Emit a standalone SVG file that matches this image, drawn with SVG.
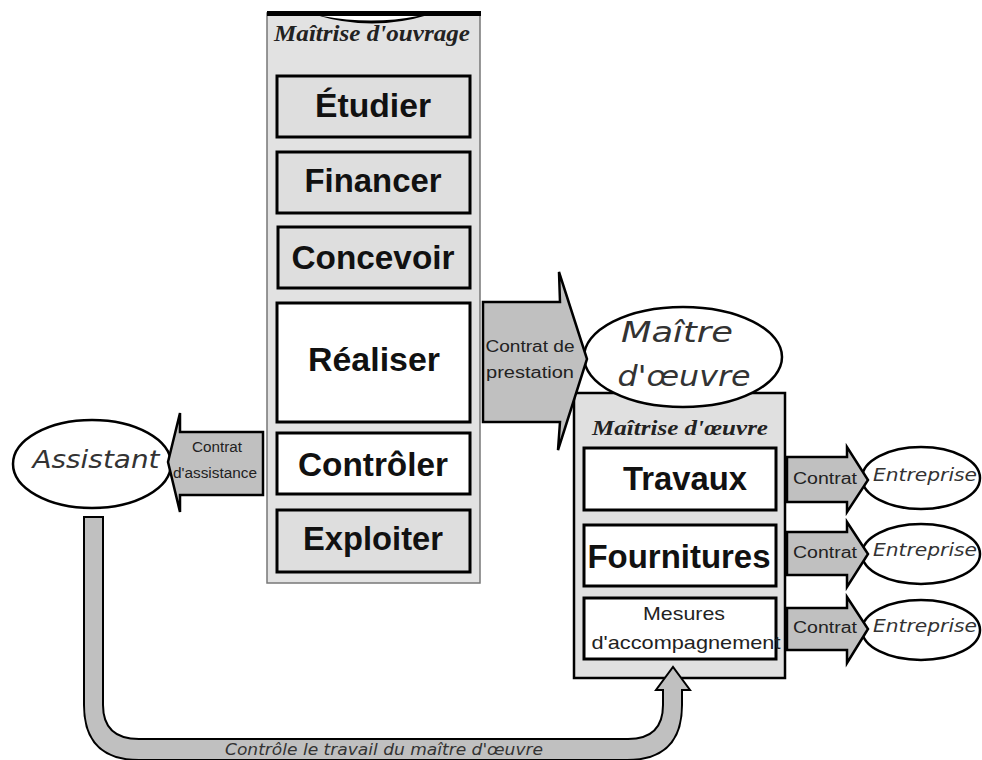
<svg xmlns="http://www.w3.org/2000/svg" width="982" height="760" viewBox="0 0 982 760">
<style>
.col{fill:#e2e2e2;stroke:#777;stroke-width:1.5}
.box{stroke:#000;stroke-width:3}
.g{fill:#dedede}
.w{fill:#fff}
.lbl{font-family:"Liberation Sans",Arial,sans-serif;font-weight:bold;fill:#111;text-anchor:middle}
.ser{font-family:"Liberation Serif","Times New Roman",serif;font-weight:bold;font-style:italic;fill:#222;text-anchor:middle}
.it{font-family:"DejaVu Sans","Liberation Sans",sans-serif;font-style:italic;fill:#333;text-anchor:middle}
.sm{font-family:"Liberation Sans",Arial,sans-serif;fill:#222;text-anchor:middle}
.arr{fill:#c0c0c0;stroke:#000;stroke-width:2.5;stroke-linejoin:miter}
.ell{fill:#fff;stroke:#000;stroke-width:2.5}
</style>

<g id="maitrise-ouvrage">
<rect class="col" x="267" y="13" width="213" height="570"/>
<rect x="267" y="11" width="214" height="5" fill="#000"/>
<path d="M316,15 Q372,32 428,15 Z" fill="#000"/>
<path d="M322,16 Q372,25 418,16 Z" fill="#fff"/>
<text class="ser" x="372" y="41" font-size="24" textLength="196" lengthAdjust="spacingAndGlyphs">Maîtrise d'ouvrage</text>
</g>
<g id="etudier"><rect class="box g" x="277" y="76" width="193" height="61"/><text class="lbl" x="373" y="117" font-size="33" textLength="116" lengthAdjust="spacingAndGlyphs">Étudier</text></g>
<g id="financer"><rect class="box g" x="277" y="152" width="193" height="61"/><text class="lbl" x="373" y="192" font-size="33" textLength="137" lengthAdjust="spacingAndGlyphs">Financer</text></g>
<g id="concevoir"><rect class="box g" x="278" y="227" width="192" height="61" stroke-width="3.5"/><text class="lbl" x="373" y="269" font-size="33" textLength="163" lengthAdjust="spacingAndGlyphs">Concevoir</text></g>
<g id="realiser"><rect class="box w" x="277" y="303" width="193" height="119"/><text class="lbl" x="374" y="371" font-size="33" textLength="132" lengthAdjust="spacingAndGlyphs">Réaliser</text></g>
<g id="controler"><rect class="box w" x="277" y="433" width="193" height="61"/><text class="lbl" x="373" y="476" font-size="33" textLength="150" lengthAdjust="spacingAndGlyphs">Contrôler</text></g>
<g id="exploiter"><rect class="box g" x="277" y="510" width="193" height="62"/><text class="lbl" x="373" y="550" font-size="33" textLength="140" lengthAdjust="spacingAndGlyphs">Exploiter</text></g>

<g id="maitrise-oeuvre">
<rect x="574" y="393" width="211" height="285" fill="#e0e0e0" stroke="#000" stroke-width="2.5"/>
<text class="ser" x="680" y="435" font-size="22" textLength="176" lengthAdjust="spacingAndGlyphs">Maîtrise d'œuvre</text>
</g>
<g id="travaux"><rect class="box w" x="584" y="448" width="192" height="62"/><text class="lbl" x="685" y="490" font-size="33" textLength="124" lengthAdjust="spacingAndGlyphs">Travaux</text></g>
<g id="fournitures"><rect class="box w" x="584" y="525" width="192" height="61"/><text class="lbl" x="679" y="568" font-size="33" textLength="183" lengthAdjust="spacingAndGlyphs">Fournitures</text></g>
<g id="mesures"><rect class="box w" x="584" y="598" width="192" height="61"/><text class="sm" x="684" y="620" font-size="19" textLength="82" lengthAdjust="spacingAndGlyphs">Mesures</text><text class="sm" x="686" y="649" font-size="19" textLength="189" lengthAdjust="spacingAndGlyphs">d'accompagnement</text></g>

<g id="maitre-oeuvre">
<ellipse class="ell" cx="683" cy="357" rx="99" ry="50"/>
<text class="it" x="677" y="342" font-size="29" textLength="112" lengthAdjust="spacingAndGlyphs">Maître</text>
<text class="it" x="684" y="386" font-size="29" textLength="133" lengthAdjust="spacingAndGlyphs">d'œuvre</text>
</g>

<g id="assistant">
<ellipse class="ell" cx="92" cy="464" rx="79" ry="44"/>
<text class="it" x="96" y="468" font-size="24" textLength="127" lengthAdjust="spacingAndGlyphs">Assistant</text>
</g>

<g id="entreprise-1"><ellipse class="ell" cx="921" cy="478" rx="59" ry="31"/><text class="it" x="925" y="481" font-size="17" textLength="104" lengthAdjust="spacingAndGlyphs">Entreprise</text></g>
<g id="entreprise-2"><ellipse class="ell" cx="921" cy="554" rx="59" ry="30"/><text class="it" x="925" y="556" font-size="17" textLength="104" lengthAdjust="spacingAndGlyphs">Entreprise</text></g>
<g id="entreprise-3"><ellipse class="ell" cx="921" cy="630" rx="59" ry="30"/><text class="it" x="925" y="632" font-size="17" textLength="104" lengthAdjust="spacingAndGlyphs">Entreprise</text></g>

<g id="connectors">
<path class="arr" d="M483,302 L560,302 L559,272 L587,359 L558,450 L560,422 L483,422 Z"/>
<text class="sm" x="530" y="352" font-size="16" textLength="89" lengthAdjust="spacingAndGlyphs">Contrat de</text>
<text class="sm" x="530" y="378" font-size="16" textLength="88" lengthAdjust="spacingAndGlyphs">prestation</text>

<path class="arr" d="M263,432 L263,495 L180,495 L180,512 L168,462 L180,413 L180,432 Z"/>
<text class="sm" x="217" y="452" font-size="14" textLength="50" lengthAdjust="spacingAndGlyphs">Contrat</text>
<text class="sm" x="215" y="478" font-size="14" textLength="84" lengthAdjust="spacingAndGlyphs">d'assistance</text>

<path class="arr" d="M787,457 L847,457 L847,447 L868,480 L847,512 L847,502 L787,502 Z"/>
<text class="sm" x="825" y="484" font-size="16" textLength="64" lengthAdjust="spacingAndGlyphs">Contrat</text>
<path class="arr" d="M787,532 L847,532 L847,522 L868,554 L847,587 L847,575 L787,575 Z"/>
<text class="sm" x="825" y="558" font-size="16" textLength="64" lengthAdjust="spacingAndGlyphs">Contrat</text>
<path class="arr" d="M787,608 L847,608 L847,597 L868,629 L847,663 L847,650 L787,650 Z"/>
<text class="sm" x="825" y="633" font-size="16" textLength="64" lengthAdjust="spacingAndGlyphs">Contrat</text>

<path d="M84,517 L84,705 Q84,760 139,760 L627,760 Q682,760 682,705 L682,690 L690,690 L673,667 L656,690 L663,690 L663,705 Q663,739 628,739 L139,739 Q103,739 103,705 L103,517 Z" fill="#c0c0c0" stroke="#000" stroke-width="2"/>
<text class="it" x="384" y="755" font-size="15" textLength="318" lengthAdjust="spacingAndGlyphs">Contrôle le travail du maître d'œuvre</text>
</g>
</svg>
